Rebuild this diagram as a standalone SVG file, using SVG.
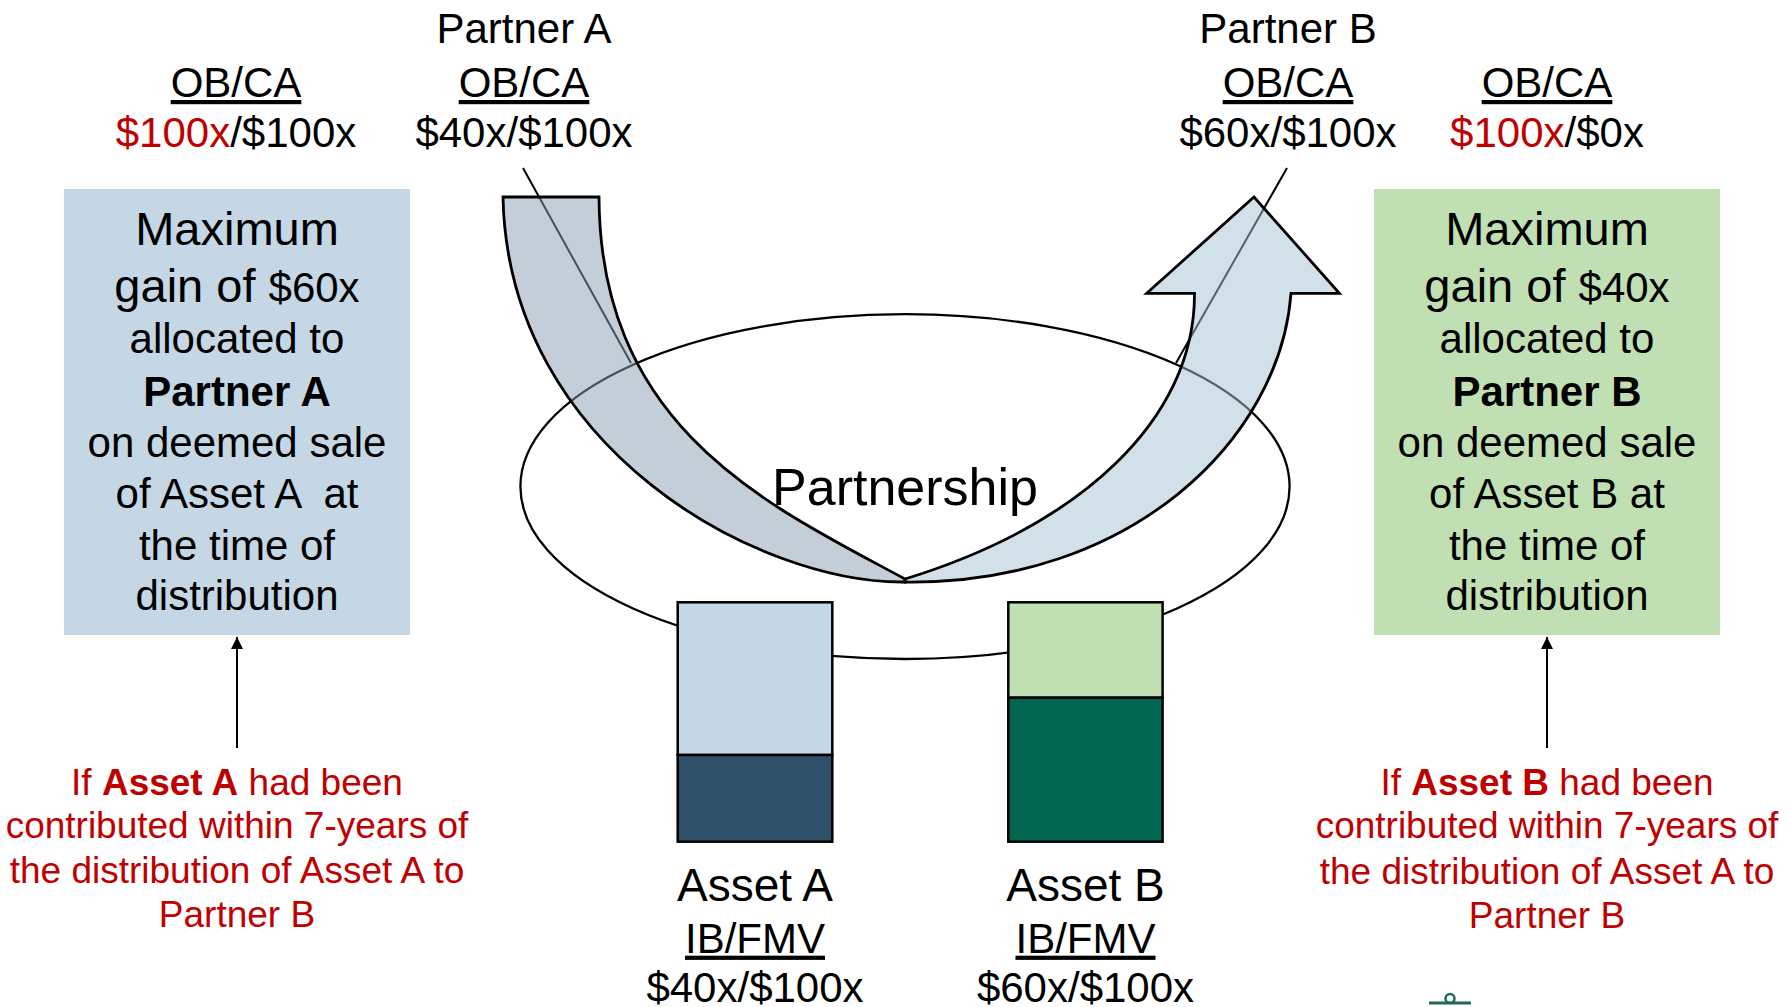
<svg xmlns="http://www.w3.org/2000/svg" width="1788" height="1007" viewBox="0 0 1788 1007">
<style>
text{font-family:"Liberation Sans",Arial,sans-serif;fill:#000}
.lbl{font-size:42px;text-anchor:middle}
.ul{text-decoration:underline}
.red{fill:#C00000}
.box{font-size:42px;text-anchor:middle}
.big{font-size:47px}
.med{font-size:42px}
.asset{font-size:46px;text-anchor:middle}
.note{font-size:37px;text-anchor:middle;fill:#C00000}
.bx{stroke:#000;stroke-width:2.5}
.band{stroke:#000;stroke-width:2.8;stroke-linejoin:miter}
.conn{stroke:#000;stroke-width:2;fill:none}
</style>
<defs>
<marker id="ah" viewBox="0 0 10 10" refX="10" refY="5" markerWidth="6" markerHeight="6" markerUnits="strokeWidth" orient="auto">
<path d="M0,0 L10,5 L0,10 Z" fill="#000"/>
</marker>
</defs>
<rect width="1788" height="1007" fill="#fff"/>

<g id="partnership">
<ellipse cx="905" cy="486.6" rx="384.6" ry="172.4" fill="none" stroke="#000" stroke-width="2.3"/>
<text x="905" y="505" font-size="52" text-anchor="middle">Partnership</text>
</g>

<g id="connectors">
<line class="conn" x1="523" y1="168" x2="631" y2="363"/>
<line class="conn" x1="1287" y1="168" x2="1176" y2="363"/>
<line class="conn" x1="237" y1="748" x2="237" y2="637" stroke-width="2.5" marker-end="url(#ah)"/>
<line class="conn" x1="1547" y1="748" x2="1547" y2="637" stroke-width="2.5" marker-end="url(#ah)"/>
</g>

<g id="curved-arrow">
<path class="band" fill="#879DB1" fill-opacity="0.5" d="M503,197 L599,197 C600,430 770,506 905,579 L905,582 C760,584 508,450 503,197 Z"/>
<path class="band" fill="#A5C1D3" fill-opacity="0.5" d="M905,579 C1080,525 1195,420 1194.5,293.3 L1146.7,293.3 L1254,197 L1339.4,293.3 L1291,293.3 C1280,440 1130,585 905,582 Z"/>
</g>

<g id="asset-a">
<rect class="bx" x="677.7" y="602.3" width="154.6" height="152.7" fill="#C5D7E5"/>
<rect class="bx" x="677.7" y="755" width="154.6" height="86.7" fill="#2F5069"/>
<text class="asset" x="755" y="900.7">Asset A</text>
<text class="lbl ul" x="755" y="952.7">IB/FMV</text>
<text class="lbl" x="755" y="1001.5">$40x/$100x</text>
</g>

<g id="asset-b">
<rect class="bx" x="1008.3" y="602.3" width="154.3" height="95.4" fill="#C0E0B4"/>
<rect class="bx" x="1008.3" y="697.7" width="154.3" height="144" fill="#00664F"/>
<text class="asset" x="1085.5" y="900.7">Asset B</text>
<text class="lbl ul" x="1085.5" y="952.7">IB/FMV</text>
<text class="lbl" x="1085.5" y="1001.5">$60x/$100x</text>
</g>

<g id="partner-a-label">
<text class="lbl" x="524" y="43">Partner A</text>
<text class="lbl ul" x="524" y="97">OB/CA</text>
<text class="lbl" x="524" y="147">$40x/$100x</text>
</g>

<g id="partner-b-label">
<text class="lbl" x="1288" y="43">Partner B</text>
<text class="lbl ul" x="1288" y="97">OB/CA</text>
<text class="lbl" x="1288" y="147">$60x/$100x</text>
</g>

<g id="left-obca">
<text class="lbl ul" x="236" y="97">OB/CA</text>
<text class="lbl" x="236" y="147"><tspan class="red">$100x</tspan>/$100x</text>
</g>

<g id="right-obca">
<text class="lbl ul" x="1547" y="97">OB/CA</text>
<text class="lbl" x="1547" y="147"><tspan class="red">$100x</tspan>/$0x</text>
</g>

<g id="left-box">
<rect x="64" y="189" width="346" height="446" fill="#C5D7E5"/>
<text class="box big" x="237" y="245">Maximum</text>
<text class="box big" x="237" y="302">gain of <tspan class="med">$60x</tspan></text>
<text class="box" x="237" y="353">allocated to</text>
<text class="box" x="237" y="406" font-weight="bold">Partner A</text>
<text class="box" x="237" y="457">on deemed sale</text>
<text class="box" x="237" y="508" style="white-space:pre">of Asset A  at</text>
<text class="box" x="237" y="560">the time of</text>
<text class="box" x="237" y="610">distribution</text>
</g>

<g id="right-box">
<rect x="1374" y="189" width="346" height="446" fill="#C0E0B4"/>
<text class="box big" x="1547" y="245">Maximum</text>
<text class="box big" x="1547" y="302">gain of <tspan class="med">$40x</tspan></text>
<text class="box" x="1547" y="353">allocated to</text>
<text class="box" x="1547" y="406" font-weight="bold">Partner B</text>
<text class="box" x="1547" y="457">on deemed sale</text>
<text class="box" x="1547" y="508">of Asset B at</text>
<text class="box" x="1547" y="560">the time of</text>
<text class="box" x="1547" y="610">distribution</text>
</g>

<g id="left-note">
<text class="note" x="237" y="795">If <tspan font-weight="bold">Asset A</tspan> had been</text>
<text class="note" x="237" y="838.3">contributed within 7-years of</text>
<text class="note" x="237" y="883.3">the distribution of Asset A to</text>
<text class="note" x="237" y="927.3">Partner B</text>
</g>

<g id="right-note">
<text class="note" x="1547" y="795">If <tspan font-weight="bold">Asset B</tspan> had been</text>
<text class="note" x="1547" y="838.3">contributed within 7-years of</text>
<text class="note" x="1547" y="884">the distribution of Asset A to</text>
<text class="note" x="1547" y="928.3">Partner B</text>
</g>

<g id="logo-fragment">
<line x1="1429" y1="1003" x2="1471" y2="1003" stroke="#1F6B4F" stroke-width="3"/>
<circle cx="1450" cy="998.5" r="4.5" fill="none" stroke="#1F6B4F" stroke-width="2.5"/>
</g>
</svg>
